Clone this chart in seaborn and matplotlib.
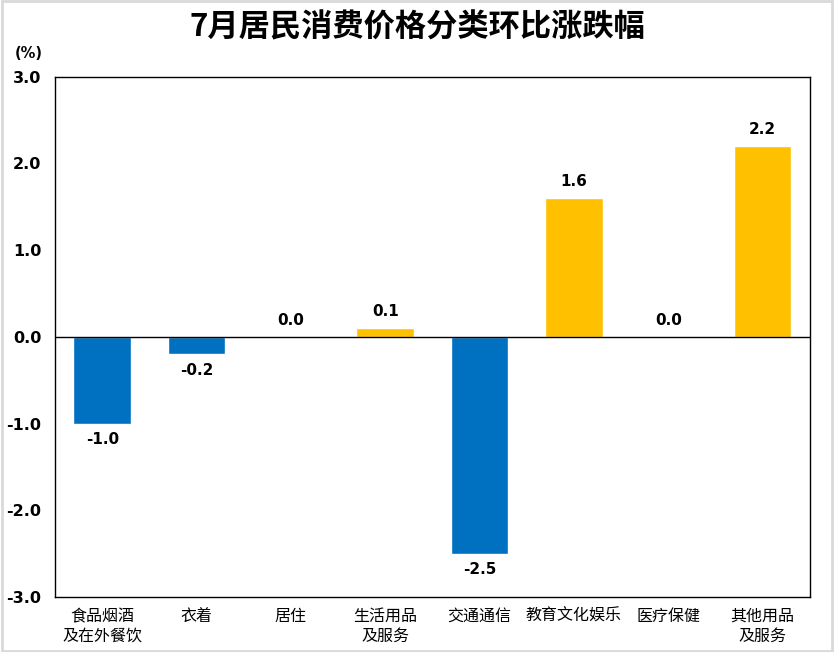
import pandas as pd
import seaborn as sns
import matplotlib.pyplot as plt
from matplotlib.patches import Rectangle

categories = ['食品烟酒\n及在外餐饮', '衣着', '居住', '生活用品\n及服务',
              '交通通信', '教育文化娱乐', '医疗保健', '其他用品\n及服务']
values = [-1.0, -0.2, 0.0, 0.1, -2.5, 1.6, 0.0, 2.2]
yticks = [-3.0, -2.0, -1.0, 0.0, 1.0, 2.0, 3.0]

df = pd.DataFrame({'cat': categories, 'val': values})
df['sign'] = ['neg' if v < 0 else 'pos' for v in values]

sns.set_style('white')
plt.rcParams['font.family'] = ['Noto Sans CJK SC', 'DejaVu Sans']
plt.rcParams['text.color'] = 'black'
plt.rcParams['xtick.color'] = 'black'
plt.rcParams['ytick.color'] = 'black'

fig = plt.figure(figsize=(8.34, 6.52), dpi=100)
ax = fig.add_axes([0.066, 0.0844, 0.905, 0.798])

sns.barplot(data=df, x='cat', y='val', hue='sign',
            palette={'neg': '#0070C0', 'pos': '#FFC000'},
            dodge=False, width=0.61, legend=False, ax=ax, saturation=1)

ax.set_ylim(-3, 3)
ax.set_xlim(-0.5, len(categories) - 0.5)
ax.set_yticks(yticks)
ax.set_yticklabels([f'{t:.1f}' for t in yticks], fontsize=11.5,
                   fontweight='bold', family='DejaVu Sans')
ax.tick_params(axis='y', length=0, pad=10)
ax.tick_params(axis='x', length=0, pad=8, labelsize=11.5)
ax.set_xlabel('')
ax.set_ylabel('')
ax.axhline(0, color='black', lw=1)
for s in ax.spines.values():
    s.set_color('black')
    s.set_linewidth(1)

# value labels
for i, v in enumerate(values):
    if v < 0:
        ax.text(i, v - 0.1, f'{v:.1f}', ha='center', va='top',
                fontsize=11, fontweight='bold', family='DejaVu Sans')
    else:
        ax.text(i, v + 0.1, f'{v:.1f}', ha='center', va='bottom',
                fontsize=11, fontweight='bold', family='DejaVu Sans')

fig.text(0.5, 0.958, '7月居民消费价格分类环比涨跌幅', ha='center', va='center',
         fontsize=22.5, fontweight='bold')
fig.text(0.035, 0.918, '(%)', ha='center', va='center', fontsize=10.5,
         fontweight='bold', family='DejaVu Sans')

fig.patches.append(Rectangle((0.002, 0.002), 0.996, 0.996, transform=fig.transFigure,
                             fill=False, edgecolor='#d9d9d9', lw=2))

fig.savefig('out.png', dpi=100)
